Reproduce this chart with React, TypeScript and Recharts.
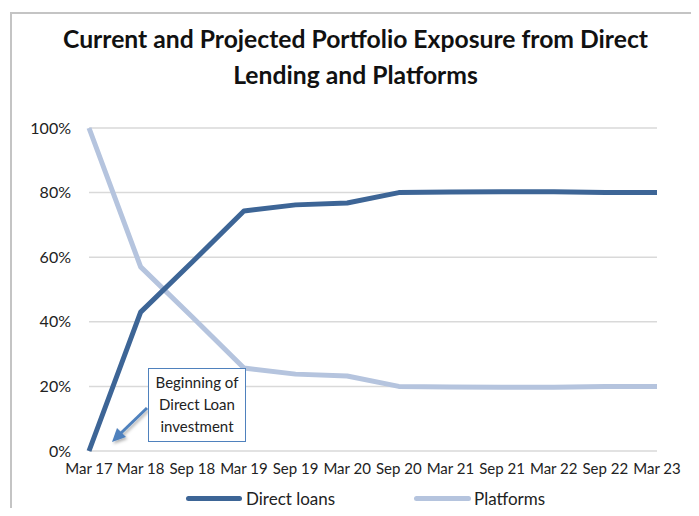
import React from 'react'
import { LineChart, Line, XAxis, YAxis, CartesianGrid } from 'recharts'

const periods: string[] = ['Mar 17', 'Mar 18', 'Sep 18', 'Mar 19', 'Sep 19', 'Mar 20', 'Sep 20', 'Mar 21', 'Sep 21', 'Mar 22', 'Sep 22', 'Mar 23']
const directLoans: number[] = [0, 43, 58.5, 74.3, 76.2, 76.8, 80, 80.2, 80.3, 80.3, 80, 80]
const platforms: number[] = [100, 57, 41.5, 25.7, 23.8, 23.2, 20, 19.8, 19.7, 19.7, 20, 20]
const yTicks: number[] = [0, 20, 40, 60, 80, 100]

const data = periods.map((p, i) => ({ period: p, direct: directLoans[i], platforms: platforms[i] }))

const font = 'Lato, "Open Sans", sans-serif'
const darkBlue = '#3d6596'
const lightBlue = '#b5c4de'

const App: React.FC = () => {
    return (
        <div style={{ position: 'relative', width: 699, height: 516, margin: -8, overflow: 'hidden', background: '#fff' }}>
            <div style={{ position: 'absolute', left: 10, top: 12, width: 685, height: 520, border: '2px solid #c4c4c4' }} />
            <div style={{ position: 'absolute', left: 0, width: 699, top: 21, textAlign: 'center', fontFamily: font, fontWeight: 700, fontSize: 24.7, lineHeight: '36px', color: '#111' }}>
                <div style={{ marginLeft: 12 }}>Current and Projected Portfolio Exposure from Direct</div>
                <div style={{ marginLeft: 12 }}>Lending and Platforms</div>
            </div>
            <div style={{ position: 'absolute', left: 0, top: 0 }}>
                <LineChart width={699} height={516} data={data} margin={{ top: 128, right: 42, left: 29, bottom: 35 }}>
                    <CartesianGrid vertical={false} stroke="#d9d9d9" strokeWidth={1.5} />
                    <XAxis dataKey="period" axisLine={false} tickLine={false} interval={0}
                        tick={{ fontFamily: font, fontSize: 15, fill: '#222' }} tickMargin={6} height={30} />
                    <YAxis domain={[0, 100]} ticks={yTicks} axisLine={false} tickLine={false} width={60}
                        tickFormatter={(v: number) => `${v}%`} tick={{ fontFamily: font, fontSize: 16, fill: '#222' }} tickMargin={12} />
                    <Line type="linear" dataKey="platforms" name="Platforms" stroke={lightBlue} strokeWidth={5}
                        dot={false} isAnimationActive={false} strokeLinejoin="round" />
                    <Line type="linear" dataKey="direct" name="Direct loans" stroke={darkBlue} strokeWidth={5}
                        dot={false} isAnimationActive={false} strokeLinejoin="round" />
                </LineChart>
            </div>
            <div style={{ position: 'absolute', left: 0, top: 488, width: 699, height: 24, fontFamily: font, fontSize: 17, color: '#222' }}>
                <div style={{ position: 'absolute', left: 186, top: 0, display: 'flex', alignItems: 'center' }}>
                    <div style={{ width: 56, height: 5, borderRadius: 3, background: darkBlue, marginRight: 4 }} />
                    <span>Direct loans</span>
                </div>
                <div style={{ position: 'absolute', left: 414, top: 0, display: 'flex', alignItems: 'center' }}>
                    <div style={{ width: 57, height: 5, borderRadius: 3, background: lightBlue, marginRight: 3 }} />
                    <span>Platforms</span>
                </div>
            </div>
            <svg width={699} height={516} style={{ position: 'absolute', left: 0, top: 0, pointerEvents: 'none' }}>
                <defs>
                    <filter id="sh" x="-50%" y="-50%" width="200%" height="200%">
                        <feDropShadow dx="1.5" dy="2" stdDeviation="1.5" floodColor="#000" floodOpacity="0.3" />
                    </filter>
                </defs>
                <g filter="url(#sh)">
                    <line x1={147} y1={408} x2={121} y2={433} stroke="#4f81bd" strokeWidth={3} />
                    <polygon points="112,442 117,428 126,437" fill="#4f81bd" />
                </g>
            </svg>
            <div style={{ position: 'absolute', left: 148, top: 368, width: 96, height: 70, border: '1.5px solid #4f81bd', background: '#fff',
                fontFamily: font, fontSize: 15, lineHeight: '22px', textAlign: 'center', color: '#222', paddingTop: 2, boxSizing: 'content-box' }}>
                Beginning of<br />Direct Loan<br />investment
            </div>
        </div>
    )
}

export default App
